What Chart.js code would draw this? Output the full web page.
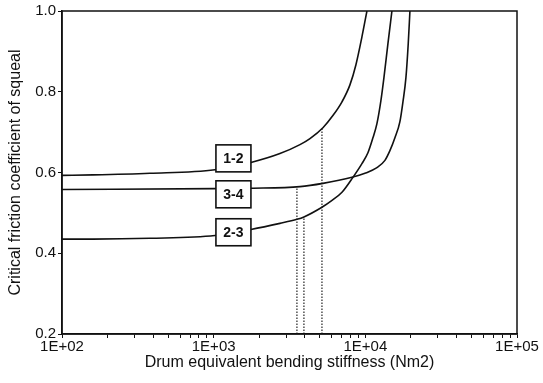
<!DOCTYPE html>
<html>
<head>
<meta charset="utf-8">
<script src="https://cdn.jsdelivr.net/npm/chart.js@4/dist/chart.umd.min.js"></script>
<style>
  body { margin: 0; background: #fff; }
</style>
</head>
<body>
<canvas id="chart" width="543" height="383"></canvas>
<script>
// values (stiffness in Nm2, friction coefficient)
const stiffness12 = [100, 160, 380, 1020, 1762, 2735, 3707, 4314, 5254, 6112, 7014, 7916, 8670, 9497, 10245];
const friction12 = [0.593, 0.594, 0.598, 0.607, 0.625, 0.647, 0.669, 0.684, 0.711, 0.741, 0.775, 0.817, 0.867, 0.936, 1.0];

const stiffness23 = [100, 160, 380, 1020, 1762, 2735, 3540, 3937, 5176, 6030, 7014, 8283, 9497, 10402, 11222, 11925, 12667, 13264, 14093, 14973];
const friction23 = [0.435, 0.435, 0.437, 0.444, 0.459, 0.474, 0.484, 0.490, 0.514, 0.531, 0.551, 0.588, 0.622, 0.649, 0.686, 0.721, 0.778, 0.835, 0.919, 1.0];

const stiffness34 = [100, 1020, 1762, 3707, 5254, 8160, 9940, 11925, 13467, 14524, 15670, 16904, 17700, 18520, 19180, 19680];
const friction34 = [0.558, 0.560, 0.561, 0.565, 0.573, 0.588, 0.598, 0.612, 0.630, 0.654, 0.686, 0.726, 0.775, 0.835, 0.919, 1.0];

// dotted drop lines: x position and height where they meet a curve
const dropStiffness = [3540, 3937, 5176];
const dropFriction = [0.564, 0.490, 0.711];

const boxLabels = ['1-2', '3-4', '2-3'];
const boxStiffness = [1350, 1350, 1350];
const boxFriction = [0.635, 0.546, 0.452];

const decades = [100, 1000, 10000, 100000];
const decadeLabels = ['1E+02', '1E+03', '1E+04', '1E+05'];
const frictionMin = 0.2;
const frictionMax = 1.0;

const toPoints = (xs, ys) => xs.map((x, i) => ({ x: x, y: ys[i] }));

const curveStyle = {
  borderColor: '#111',
  borderWidth: 1.6,
  pointRadius: 0,
  fill: false,
  cubicInterpolationMode: 'monotone'
};

const datasets = [
  Object.assign({ label: '1-2', data: toPoints(stiffness12, friction12) }, curveStyle),
  Object.assign({ label: '2-3', data: toPoints(stiffness23, friction23) }, curveStyle),
  Object.assign({ label: '3-4', data: toPoints(stiffness34, friction34) }, curveStyle)
];

dropStiffness.forEach((x, i) => {
  datasets.push({
    label: 'drop' + i,
    data: [{ x: x, y: frictionMin }, { x: x, y: dropFriction[i] }],
    borderColor: '#222',
    borderWidth: 1.2,
    borderDash: [1.5, 1.5],
    pointRadius: 0,
    fill: false
  });
});

// log ticks at 1..9 of each decade, labels only on the decades
const xTicks = [];
decades.forEach((d, i) => {
  if (i === decades.length - 1) {
    xTicks.push(d);
    return;
  }
  for (let m = 1; m < 10; m++) xTicks.push(d * m);
});

const frameAndBoxes = {
  id: 'frameAndBoxes',
  afterDatasetsDraw(chart) {
    const { ctx, chartArea, scales } = chart;
    ctx.save();
    ctx.strokeStyle = '#111';
    ctx.lineWidth = 1.5;
    ctx.strokeRect(chartArea.left, chartArea.top, chartArea.right - chartArea.left, chartArea.bottom - chartArea.top);

    ctx.font = 'bold 14px "Liberation Sans", Arial, sans-serif';
    ctx.textAlign = 'center';
    ctx.textBaseline = 'middle';
    boxLabels.forEach((txt, i) => {
      const cx = scales.x.getPixelForValue(boxStiffness[i]);
      const cy = scales.y.getPixelForValue(boxFriction[i]);
      const w = 35, h = 27;
      ctx.fillStyle = '#fff';
      ctx.fillRect(cx - w / 2, cy - h / 2, w, h);
      ctx.lineWidth = 1.6;
      ctx.strokeRect(cx - w / 2, cy - h / 2, w, h);
      ctx.fillStyle = '#111';
      ctx.fillText(txt, cx, cy + 1);
    });
    ctx.restore();
  }
};

const fontFamily = '"Liberation Sans", Arial, sans-serif';

new Chart(document.getElementById('chart'), {
  type: 'line',
  data: { datasets: datasets },
  options: {
    responsive: false,
    animation: false,
    layout: { padding: { top: 10, right: 26, left: 0, bottom: 0 } },
    plugins: {
      legend: { display: false },
      tooltip: { enabled: false }
    },
    scales: {
      x: {
        type: 'logarithmic',
        min: 100,
        max: 100000,
        afterBuildTicks: (scale) => {
          scale.ticks = xTicks.map((v) => ({ value: v }));
        },
        afterFit: (scale) => { scale.height = 49; },
        ticks: {
          autoSkip: false,
          maxRotation: 0,
          padding: 0,
          color: '#111',
          font: { family: fontFamily, size: 15 },
          callback: (value) => {
            const idx = decades.indexOf(value);
            return idx >= 0 ? decadeLabels[idx] : '';
          }
        },
        grid: { drawOnChartArea: false, drawTicks: true, tickLength: 4, color: '#111' },
        border: { display: true, color: '#111', width: 1.5 },
        title: {
          display: true,
          text: 'Drum equivalent bending stiffness (Nm2)',
          color: '#111',
          font: { family: fontFamily, size: 16 },
          padding: { top: 2, bottom: 11 }
        }
      },
      y: {
        min: frictionMin,
        max: frictionMax,
        afterFit: (scale) => { scale.width = 62; },
        ticks: {
          stepSize: 0.2,
          padding: 2,
          color: '#111',
          font: { family: fontFamily, size: 15 },
          callback: (value) => value.toFixed(1)
        },
        grid: { drawOnChartArea: false, drawTicks: true, tickLength: 4, color: '#111' },
        border: { display: true, color: '#111', width: 1.5 },
        title: {
          display: true,
          text: 'Critical friction coefficient of squeal',
          color: '#111',
          font: { family: fontFamily, size: 16 },
          padding: { top: 6, bottom: 2 }
        }
      }
    }
  },
  plugins: [frameAndBoxes]
});
</script>
</body>
</html>
